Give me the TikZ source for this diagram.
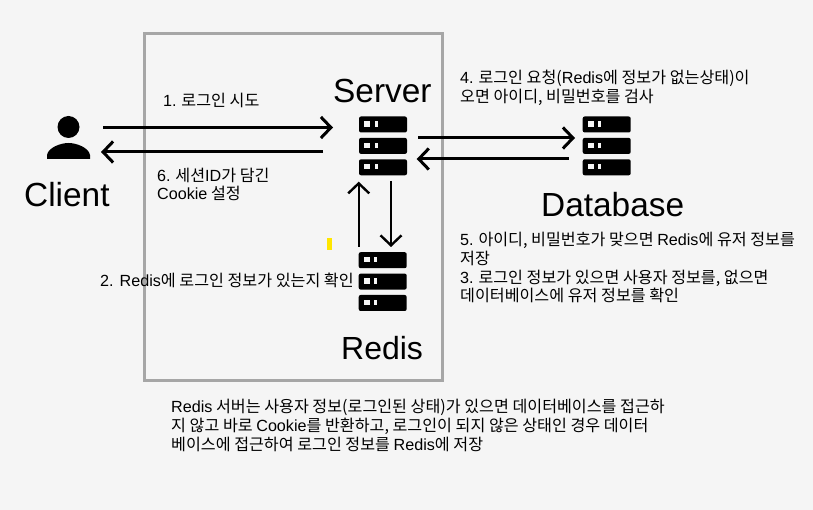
\documentclass[tikz,border=0pt]{standalone}
\usepackage{fontspec}
\setmainfont{Noto Sans CJK KR}
\newfontfamily\latfont{Liberation Sans}
\usetikzlibrary{arrows.meta}

\definecolor{bgcol}{HTML}{F5F5F5}
\definecolor{boxcol}{HTML}{A6A6A6}
\definecolor{markcol}{HTML}{FFE600}

\newcommand{\en}[1]{{\latfont #1}}
% three bars, named empty node round them
\newcommand{\rackicon}[2]{
    \node[iconbox, minimum width = 48pt, minimum height = 59pt] (#1) at (#2) {};
    \begin{scope}[shift = {(#2)}]
        \foreach \i in {0, 1, 2}{
            \fill[rounded corners = 2pt] (-24, {-29.5+21.4*\i}) rectangle ++ (48, 16);
            \fill[bgcol] (-19, {-24.8+21.4*\i}) rectangle ++ (6, 5.4);
            \fill[bgcol] (-8.5, {-24.8+21.4*\i}) rectangle ++ (3, 5.4);
        }
    \end{scope}
}

\tikzset{
    iconbox/.style = {inner sep = 0pt, outer sep = 0pt},
    bigtext/.style = {inner sep = 0pt, anchor = base west, font = \fontsize{33.4}{33}\latfont},
    note/.style = {inner sep = 0pt, anchor = north west, align = left, font = \fontsize{16.15}{18.8}\selectfont},
    flow/.style = {line width = 3pt, -{Straight Barb[length = 10pt, width = 21pt, line width = 3pt]}},
    thinflow/.style = {line width = 2.4pt, -{Straight Barb[length = 10pt, width = 21pt, line width = 2.4pt]}}
}

\begin{document}
\begin{tikzpicture}[x = 1pt, y = -1pt]
    \fill[bgcol] (0, 0) rectangle (813, 510);
    \useasboundingbox (0, 0) rectangle (813, 510);

    \node[draw = boxcol, line width = 3pt, inner sep = 0pt, minimum width = 298pt, minimum height = 347pt] (serverbox) at (293.5, 207) {};

    % client
    \node[iconbox, minimum width = 43pt, minimum height = 43pt] (client) at (68.5, 138) {};
    \fill (68.5, 127) circle (11);
    \fill (47, 159) -- (47, 155) .. controls (48, 148) and (60, 143) .. (68.5, 143) .. controls (77, 143) and (89, 148) .. (90, 155) -- (90, 159) -- cycle;

    \rackicon{server}{383, 146}
    \rackicon{database}{606.7, 146}
    \rackicon{redis}{382.7, 281.7}

    \node[bigtext] (clientlabel) at (24, 206.5) {Client};
    \node[bigtext] (serverlabel) at (333, 103) {Server};
    \node[bigtext] (databaselabel) at (541, 217) {Database};
    \node[bigtext, font = \fontsize{32}{33}\latfont] (redislabel) at (341, 359.5) {Redis};

    % connectors
    \draw[flow] ([shift = {(13, -10.5)}]client.east) -- ([shift = {(-26, -18.5)}]server.west);
    \draw[flow] ([shift = {(-36, 6)}]server.west) -- ([shift = {(11, 14)}]client.east);
    \draw[flow] ([shift = {(11, -8)}]server.east) -- ([shift = {(-7.7, -8)}]database.west);
    \draw[flow] ([shift = {(-14, 13)}]database.west) -- ([shift = {(9.7, 13)}]server.east);
    \draw[thinflow] ([shift = {(-24, -5.5)}]redis.north) -- ([shift = {(-24.3, 6.2)}]server.south);
    \draw[thinflow] ([shift = {(8, 5.5)}]server.south) -- ([shift = {(8.3, -5.2)}]redis.north);

    \fill[markcol] (327.3, 238) rectangle (332, 250);

    % notes
    \node[note] (loginnote) at (163, 93) {\en{1.} 로그인 시도};
    \node[note] (cookienote) at (157, 167.5) {\en{6.} 세션\en{ID}가 담긴\\\en{Cookie} 설정};
    \node[note] (checknote) at (100, 273) {\en{2. Redis}에 로그인 정보가 있는지 확인};
    \node[note] (requestnote) at (460, 70) {\en{4.} 로그인 요청(\en{Redis}에 정보가 없는상태)이\\오면 아이디, 비밀번호를 검사};
    \node[note] (savenote) at (460, 232) {\en{5.} 아이디, 비밀번호가 맞으면 \en{Redis}에 유저 정보를\\저장\\\en{3.} 로그인 정보가 있으면 사용자 정보를, 없으면\\데이터베이스에 유저 정보를 확인};
    \node[note] (summarynote) at (171, 399) {\en{Redis} 서버는 사용자 정보(로그인된 상태)가 있으면 데이터베이스를 접근하\\지 않고 바로 \en{Cookie}를 반환하고, 로그인이 되지 않은 상태인 경우 데이터\\베이스에 접근하여 로그인 정보를 \en{Redis}에 저장};
\end{tikzpicture}
\end{document}
